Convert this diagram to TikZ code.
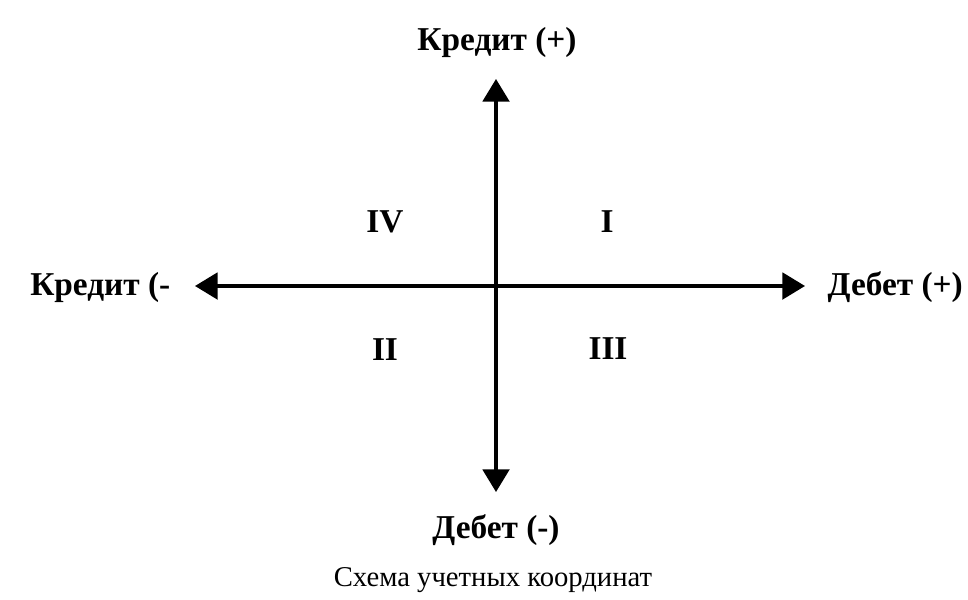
\documentclass[tikz,border=0pt]{standalone}
\usepackage{fontspec}
\setmainfont{Liberation Serif}
\usetikzlibrary{arrows.meta}
\begin{document}
\begin{tikzpicture}[x=0.75pt,y=-0.75pt,
  axis/.style={line width=2.4pt,-{Triangle[length=17pt,width=20pt]}},
  lbl/.style={font=\fontsize{25}{29}\selectfont\bfseries,inner sep=0pt},
  captext/.style={font=\fontsize{21.5}{25}\selectfont,inner sep=0pt}]
\useasboundingbox (0,0) rectangle (968,600);
\coordinate (O) at (496,286);
\coordinate (top) at (496,79);
\coordinate (bot) at (496,492);
\coordinate (lft) at (195,286);
\coordinate (rgt) at (805,286);
\draw[axis] (O) -- (top);
\draw[axis] (O) -- (bot);
\draw[axis] (O) -- (lft);
\draw[axis] (O) -- (rgt);
\node[lbl] (kp) at (497,42) {Кредит (+)};
\node[lbl,anchor=west] (km) at (30,287) {Кредит (-};
\node[lbl,anchor=east] (dp) at (963,287) {Дебет (+)};
\node[lbl] (dm) at (496,530) {Дебет (-)};
\node[lbl] (q4) at (385,222) {IV};
\node[lbl] (q1) at (607,222) {I};
\node[lbl] (q2) at (385,350) {II};
\node[lbl] (q3) at (608,349) {III};
\node[captext] (title) at (493,580) {Схема учетных координат};
\end{tikzpicture}
\end{document}
